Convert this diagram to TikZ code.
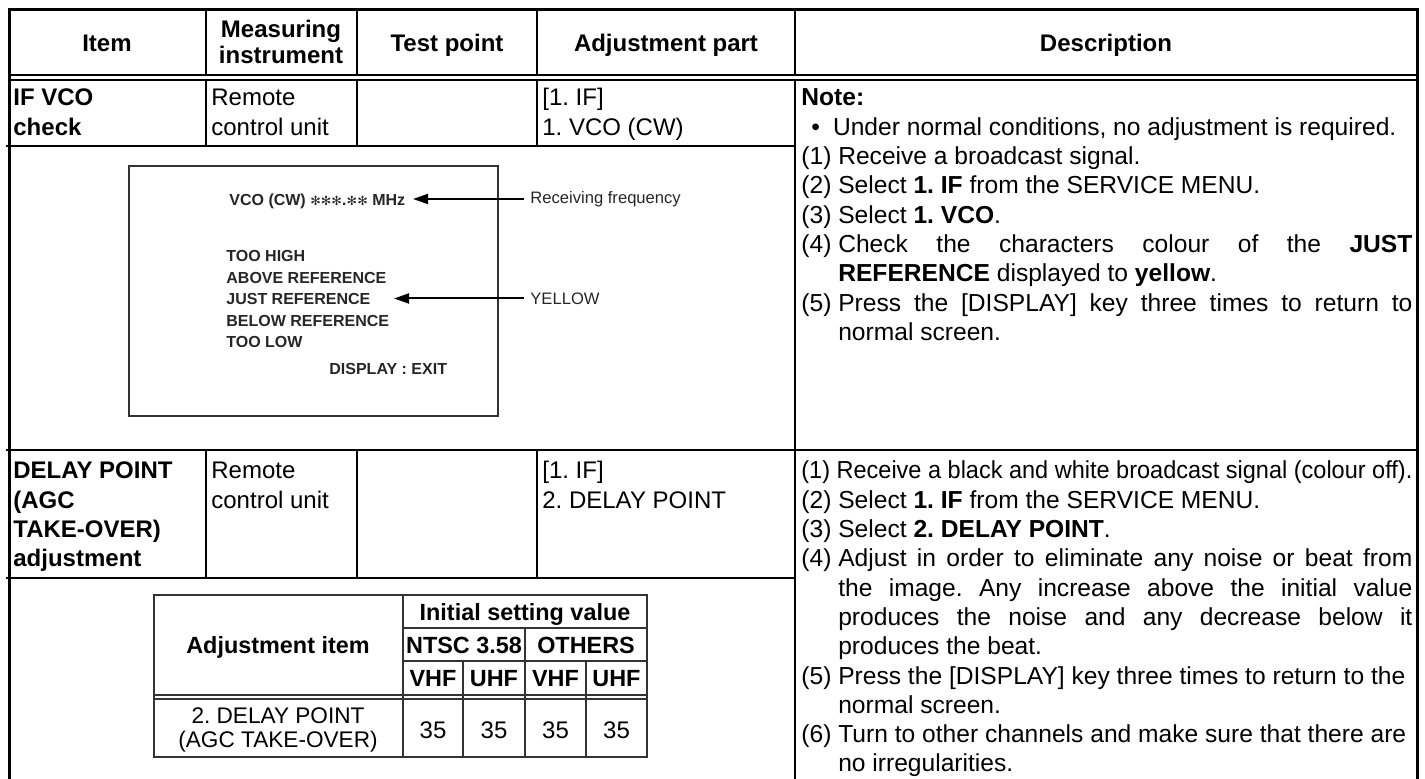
\documentclass[tikz,border=0pt]{standalone}
\usepackage{fontspec}
\setmainfont{Liberation Sans}
\newfontfamily\dingfont{DejaVu Sans}
\usepackage{graphicx}
\usetikzlibrary{arrows.meta}
\frenchspacing

\newlength{\descw}
\setlength{\descw}{305.5pt}
\newcommand{\itemno}[1]{\makebox[1.5em][l]{(#1)}}
\newcommand{\jline}[1]{\makebox[\descw][s]{#1}}
\newcommand{\contind}{\hspace*{1.5em}}
\newcommand{\jcont}[1]{\contind\makebox[\dimexpr\descw-1.5em\relax][s]{#1}}
\newcommand{\fontspaces}{\spaceskip=0pt\xspaceskip=0pt\relax}

\tikzstyle{hdr} = [inner sep=0, align=center, font=\fontsize{12}{13}\selectfont\bfseries, execute at begin node=\fontspaces]
\tikzstyle{hdrline} = [hdr, text height=8.6pt, text depth=0pt]
\tikzstyle{cellbox} = [anchor=north west, inner sep=0, align=left, font=\fontsize{12}{14.65}\selectfont, execute at begin node=\fontspaces]
\tikzstyle{boldcellbox} = [cellbox, font=\fontsize{12}{14.65}\selectfont\bfseries]
\tikzstyle{desctext} = [cellbox, text width=\descw, font=\fontsize{12.3}{14.65}\selectfont]
\tikzstyle{scrtext} = [anchor=base west, inner sep=0, text=black!85, font=\fontsize{8}{10}\selectfont\bfseries]
\tikzstyle{scrlabel} = [anchor=west, inner xsep=3pt, inner ysep=0, text=black!85, font=\fontsize{8.3}{10}\selectfont]
\tikzstyle{pointer} = [line width=1pt, -{Triangle[length=7.5pt,width=5pt]}]
\tikzstyle{frameline} = [line width=1.5pt]
\tikzstyle{rowline} = [line width=1pt]
\tikzstyle{tblline} = [line width=0.8pt, black!80]
\tikzstyle{tblhead} = [inner sep=0, text height=8.6pt, text depth=0pt, font=\fontsize{11.7}{13}\selectfont\bfseries]
\tikzstyle{tblval} = [inner sep=0, text height=8.6pt, text depth=0pt, font=\fontsize{12}{13}\selectfont]

\begin{document}
\begin{tikzpicture}[x=0.5pt, y=-0.5pt]
\useasboundingbox (0,0) rectangle (1425,779);

% table frame and rules
\draw [frameline] (9,779) -- (9,10) -- (1417,10) -- (1417,779);
\draw [rowline] (9,75) -- (1417,75);
\draw [rowline] (9,80) -- (1417,80);
\draw [rowline] (206,10) -- (206,75);
\draw [rowline] (357,10) -- (357,75);
\draw [rowline] (537,10) -- (537,75);
\draw [rowline] (795,10) -- (795,75);
\draw [rowline] (206,80) -- (206,146);
\draw [rowline] (357,80) -- (357,146);
\draw [rowline] (537,80) -- (537,146);
\draw [rowline] (795,80) -- (795,779);
\draw [rowline] (6,146) -- (795,146);
\draw [rowline] (6,450) -- (1417,450);
\draw [rowline] (206,450) -- (206,578);
\draw [rowline] (357,450) -- (357,578);
\draw [rowline] (537,450) -- (537,578);
\draw [rowline] (6,578) -- (795,578);

% header
\node (hitem) [hdrline] at (107,43) {Item};
\node (hmeas) [hdr] at (281,42) {Measuring\\instrument};
\node (htest) [hdrline] at (447,43) {Test point};
\node (hadj) [hdrline] at (666,43) {Adjustment part};
\node (hdesc) [hdrline] at (1106,43) {Description};

% IF VCO row
\node (itemvco) [boldcellbox] at (13,85) {\strut IF VCO\\check};
\node (instvco) [cellbox] at (211,85) {\strut Remote\\control unit};
\node (adjvco) [cellbox] at (542,85) {\strut[1. IF]\\1. VCO (CW)};
\node (descvco) [desctext] at (801,85) {\strut\textbf{Note:}\\
\hspace*{5pt}\textbullet\hspace*{6.5pt}Under normal conditions, no adjustment is required.\\
\itemno{1}Receive a broadcast signal.\\
\itemno{2}Select \textbf{1. IF} from the SERVICE MENU.\\
\itemno{3}Select \textbf{1. VCO}.\\
\jline{\itemno{4}Check the characters colour of the \textbf{JUST}}\\
\contind\textbf{REFERENCE} displayed to \textbf{yellow}.\\
\jline{\itemno{5}Press the [DISPLAY] key three times to return to}\\
\contind normal screen.};

% on-screen menu
\draw [line width=1pt, black!80] (129,166) rectangle (498,416);
\node (vco) [scrtext] at (229,206) {VCO (CW) {\dingfont\fontsize{6.3}{8}\selectfont ✻✻✻.✻✻} MHz};
\node (toohigh) [scrtext] at (226,262) {TOO HIGH};
\node (above) [scrtext] at (226,283.5) {ABOVE REFERENCE};
\node (just) [scrtext] at (226,304.5) {JUST REFERENCE};
\node (below) [scrtext] at (226,326.5) {BELOW REFERENCE};
\node (toolow) [scrtext] at (226,348) {TOO LOW};
\node (exit) [scrtext] at (329,374.5) {DISPLAY : EXIT};
\node (recv) [scrlabel] at (524,199) {Receiving frequency};
\node (yellow) [scrlabel] at (524,298.5) {YELLOW};
\coordinate (vcotip) at (413,199);
\coordinate (justtip) at (394,298.5);
\draw [pointer] (recv) -- (vcotip);
\draw [pointer] (yellow) -- (justtip);

% DELAY POINT row
\node (itemdelay) [boldcellbox] at (13,458) {\strut DELAY POINT\\(AGC\\TAKE-OVER)\\adjustment};
\node (instdelay) [cellbox] at (211,458) {\strut Remote\\control unit};
\node (adjdelay) [cellbox] at (542,458) {\strut[1. IF]\\2. DELAY POINT};
\node (descdelay) [desctext] at (801,458) {\strut\resizebox{\descw}{\height}{\itemno{1}Receive a black and white broadcast signal (colour off).}\\
\itemno{2}Select \textbf{1. IF} from the SERVICE MENU.\\
\itemno{3}Select \textbf{2. DELAY POINT}.\\
\jline{\itemno{4}Adjust in order to eliminate any noise or beat from}\\
\jcont{the image. Any increase above the initial value}\\
\jcont{produces the noise and any decrease below it}\\
\contind produces the beat.\\
\itemno{5}Press the [DISPLAY] key three times to return to the\\
\contind normal screen.\\
\itemno{6}Turn to other channels and make sure that there are\\
\contind no irregularities.};

% initial setting table
\draw [line width=1pt, black!80] (154,595) rectangle (647,757);
\draw [tblline] (403,595) -- (403,757);
\draw [tblline] (403,628) -- (647,628);
\draw [tblline] (403,661) -- (647,661);
\draw [tblline] (525,628) -- (525,757);
\draw [tblline] (463,661) -- (463,757);
\draw [tblline] (586,661) -- (586,757);
\draw [tblline] (154,695) -- (647,695);
\draw [tblline] (154,699) -- (647,699);

\node (adjitem) [tblhead] at (278,645) {Adjustment item};
\node (initval) [tblhead] at (525,612) {Initial setting value};
\node (ntsc) [tblhead] at (464,645) {NTSC 3.58};
\node (others) [tblhead] at (586,645) {OTHERS};
\node (vhfa) [tblhead] at (433,678) {VHF};
\node (uhfa) [tblhead] at (494,678) {UHF};
\node (vhfb) [tblhead] at (555.5,678) {VHF};
\node (uhfb) [tblhead] at (616.5,678) {UHF};
\node (delayitem) [inner sep=0, align=center, font=\fontsize{11.3}{12}\selectfont, execute at begin node=\fontspaces] at (278,730) {2. DELAY POINT\\(AGC TAKE-OVER)};
\node (vala) [tblval] at (433,730) {35};
\node (valb) [tblval] at (494,730) {35};
\node (valc) [tblval] at (555.5,730) {35};
\node (vald) [tblval] at (616.5,730) {35};
\end{tikzpicture}
\end{document}
